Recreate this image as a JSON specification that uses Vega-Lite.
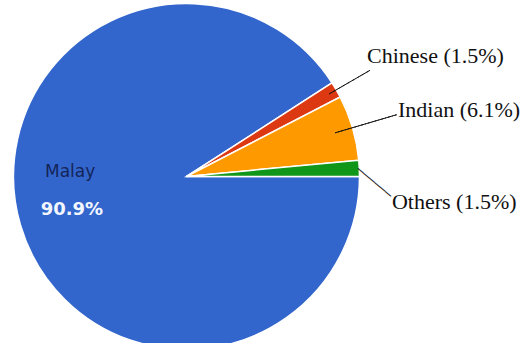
{
  "$schema": "https://vega.github.io/schema/vega-lite/v6.json",
  "width": 373,
  "height": 353,
  "autosize": {"type": "none"},
  "padding": {"left": 0, "top": 0, "right": 149, "bottom": 0},
  "background": "white",
  "config": {"view": {"stroke": null}},
  "data": {
    "values": [
      {"cat": "Malay", "value": 90.9, "rank": 1, "label": "Malay (90.9%)", "pct": "90.9%"},
      {"cat": "Chinese", "value": 1.5, "rank": 2, "label": "Chinese (1.5%)", "pct": "1.5%"},
      {"cat": "Indian", "value": 6.1, "rank": 3, "label": "Indian (6.1%)", "pct": "6.1%"},
      {"cat": "Others", "value": 1.5, "rank": 4, "label": "Others (1.5%)", "pct": "1.5%"}
    ]
  },
  "encoding": {
    "theta": {"field": "value", "type": "quantitative", "stack": true, "scale": {"range": [1.5707963268, 7.853981634]}},
    "order": {"field": "rank", "type": "quantitative"}
  },
  "layer": [
    {
      "mark": {"type": "arc", "radius": 173, "stroke": "white", "strokeWidth": 1.5},
      "encoding": {
        "color": {"field": "cat", "type": "nominal", "scale": {"domain": ["Malay", "Chinese", "Indian", "Others"], "range": ["#3366CC", "#DC3912", "#FF9900", "#109618"]}, "legend": null}
      }
    },
    {
      "mark": {"type": "arc", "padAngle": 0.8, "filled": false, "stroke": "#111111", "strokeWidth": 1, "strokeDash": [4, 1.5]},
      "encoding": {
        "radius": {"value": 212},
        "radius2": {"value": 165},
        "strokeOpacity": {"condition": {"test": "datum.cat === 'Chinese'", "value": 1}, "value": 0}
      }
    },
    {
      "mark": {"type": "arc", "padAngle": 0.8, "filled": false, "stroke": "#111111", "strokeWidth": 1, "strokeDash": [5, 2]},
      "encoding": {
        "radius": {"value": 219},
        "radius2": {"value": 155},
        "strokeOpacity": {"condition": {"test": "datum.cat === 'Indian'", "value": 1}, "value": 0}
      }
    },
    {
      "mark": {"type": "text", "radius": 188, "align": "center", "baseline": "middle", "angle": 40, "dx": 9.5, "dy": 11.3, "font": "DejaVu Sans", "fontSize": 12, "fill": "#222222"},
      "encoding": {
        "text": {"condition": {"test": "datum.cat === 'Others'", "value": "──────"}, "value": ""}
      }
    },
    {
      "mark": {"type": "text", "radius": 208.6, "align": "left", "baseline": "alphabetic", "dy": -9, "font": "Liberation Serif", "fontSize": 22, "fill": "#111111"},
      "encoding": {
        "text": {"condition": {"test": "datum.cat === 'Chinese'", "field": "label"}, "value": ""}
      }
    },
    {
      "mark": {"type": "text", "radius": 224.6, "align": "left", "baseline": "alphabetic", "dx": -4, "dy": 4, "font": "Liberation Serif", "fontSize": 22, "fill": "#111111"},
      "encoding": {
        "text": {"condition": {"test": "datum.cat === 'Indian'", "field": "label"}, "value": ""}
      }
    },
    {
      "mark": {"type": "text", "radius": 205.7, "align": "left", "baseline": "alphabetic", "dy": 42, "font": "Liberation Serif", "fontSize": 22, "fill": "#111111"},
      "encoding": {
        "text": {"condition": {"test": "datum.cat === 'Others'", "field": "label"}, "value": ""}
      }
    },
    {
      "mark": {"type": "text", "radius": 147.5, "align": "left", "baseline": "alphabetic", "dy": -41, "font": "DejaVu Sans", "fontSize": 17, "fill": "#14245a"},
      "encoding": {
        "text": {"condition": {"test": "datum.cat === 'Malay'", "field": "cat"}, "value": ""}
      }
    },
    {
      "mark": {"type": "text", "radius": 152, "align": "left", "baseline": "alphabetic", "dy": -4, "font": "DejaVu Sans", "fontSize": 18, "fontWeight": "bold", "fill": "#f2f6ff"},
      "encoding": {
        "text": {"condition": {"test": "datum.cat === 'Malay'", "field": "pct"}, "value": ""}
      }
    }
  ]
}
